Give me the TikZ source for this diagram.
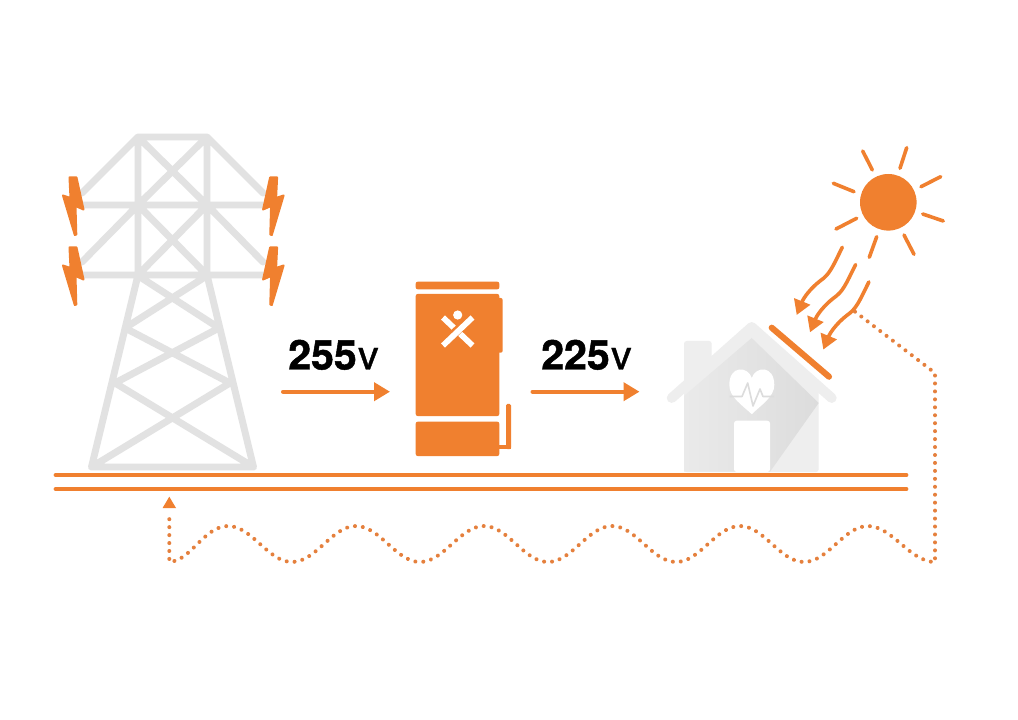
\documentclass[tikz,border=0pt]{standalone}
\usepackage{fontspec}
\setmainfont{TeX Gyre Heros}
\newfontfamily\voltbold[FakeBold=1.2]{TeX Gyre Heros Bold}
\newfontfamily\voltmed[FakeBold=1.0]{TeX Gyre Heros}
\usetikzlibrary{arrows.meta,shadings}
\definecolor{org}{HTML}{F0802F}
\definecolor{dotorg}{HTML}{E5803D}
\definecolor{tower}{HTML}{E2E2E2}
\definecolor{hlight}{HTML}{EEEEEE}
\definecolor{hleft}{HTML}{EAEAEA}
\definecolor{hdark}{HTML}{DCDCDC}
\tikzset{
  towerline/.style={draw=tower,line width=5.2pt,line cap=round,line join=round},
  bolt/.style={fill=org,draw=org,line width=1.5pt,line join=round},
  ground/.style={draw=org,line width=3.7pt,line cap=round},
  flow/.style={draw=org,line width=3pt,line cap=round,-{Triangle[length=12pt,width=13.5pt]}},
  ray/.style={draw=org,line width=2.7pt,line cap=round},
  wavy/.style={draw=org,line width=2.7pt,line cap=round,-{Triangle[length=11pt,width=12.5pt]}},
  dots/.style={draw=dotorg,line width=3pt,line cap=round,dash pattern=on 0.01pt off 5.95pt},
  volt/.style={inner sep=0pt,anchor=base west,text=black},
  orgbox/.style={fill=org,rounded corners=1.5pt},
}
\begin{document}
\begin{tikzpicture}[x=0.75pt,y=-0.75pt]
\useasboundingbox (0,0) rectangle (1018,720);
\fill[white] (0,0) rectangle (1018,720);
% tower
\path[towerline] (82,193) -- (138,137) -- (207,137) -- (263,193)
  (83,205) -- (263,205) (83,275) -- (263,275)
  (82,262) -- (138,205) (207,205) -- (263,262)
  (138,137) -- (138,275) (207,137) -- (207,275)
  (138,137) -- (207,205) (207,137) -- (138,205)
  (138,205) -- (207,275) (207,205) -- (138,275)
  (138,275) -- (91.5,467) -- (253.5,467) -- (207,275)
  (140,277) -- (219,328) (205,277) -- (125,328)
  (125,328) -- (230,383) (219,328) -- (115,383)
  (115,383) -- (253.5,467) (230,383) -- (91.5,467);
% bolts
\foreach \d in {0,70}{
  \path[bolt] (69.5,177.5+\d) -- (76.5,177.5+\d) -- (83.5,209.5+\d) -- (75.5,206+\d) -- (76.3,234.5+\d) -- (74.8,235+\d) -- (63,195.5+\d) -- (70.5,198+\d) -- cycle;
  \path[bolt] (277.1,177.5+\d) -- (270.1,177.5+\d) -- (263.1,209.5+\d) -- (271.1,206+\d) -- (270.3,234.5+\d) -- (271.8,235+\d) -- (283.6,195.5+\d) -- (276.1,198+\d) -- cycle;
}
% ground
\draw[ground] (56,475) coordinate (g1a) -- (906,475) coordinate (g1b);
\draw[ground] (56,489) coordinate (g2a) -- (906,489) coordinate (g2b);
% device
\path[orgbox] (415.7,281.7) rectangle (499.3,289.3);
\path[orgbox] (415.7,294) rectangle (499.3,416);
\path[orgbox] (490,298) rectangle (502.7,352.7);
\path[orgbox] (415.7,421.7) rectangle (499.3,456);
\path[fill=org,rounded corners=1pt] (506,404) rectangle (511,449);
\path[fill=org] (499,445) rectangle (511,449);
\fill[white] (457.7,315) circle[radius=4.6];
\draw[white,line width=4.3pt] (443,317.5) -- (472.5,345.5);
\draw[org,line width=6.6pt] (451,336.5) -- (465,323);
\draw[white,line width=4.3pt] (472.5,317.5) -- (443,345.5);
% arrows and labels
\coordinate (a1s) at (283,391.7); \coordinate (a1e) at (390,391.7);
\coordinate (a2s) at (532.5,391.7); \coordinate (a2e) at (639.5,391.7);
\draw[flow] (a1s) -- (a1e);
\draw[flow] (a2s) -- (a2e);
\node[volt] (v1) at (288,369.5) {\fontsize{30.8pt}{31pt}\selectfont\voltbold 255\kern1pt\voltmed v};
\node[volt] (v2) at (541,369.5) {\fontsize{30.8pt}{31pt}\selectfont\voltbold 225\kern1pt\voltmed v};
% house
\path[fill=hlight] (684,472) [rounded corners=2pt]-- (684,341) -- (711.7,341) -- (711.7,360) -- (751.7,326) -- (818.7,385) -- (818.7,472) -- cycle;
\shade[left color=hleft,right color=hdark,shading angle=90]
  (684,471.7) -- (684,396) -- (751.7,338) -- (818.7,403) -- (770,471.7) -- cycle;
\draw[hlight,line width=7.4pt,line cap=round,line join=round] (671.7,398) -- (751.7,327) -- (831.7,398);
\fill[white,rounded corners=2pt] (734,472) -- (734,420.7) -- (770,420.7) -- (770,472) -- cycle;
\fill[white] (751.8,414.2) .. controls (742,405) and (729.3,397) .. (729.3,385)
  .. controls (729.3,365) and (748,366) .. (751.8,378)
  .. controls (755.5,366) and (774.3,365) .. (774.3,385)
  .. controls (774.3,397) and (761,405) .. (751.8,414.2) -- cycle;
\draw[hdark,line width=1.2pt,line join=round] (729.5,396.5) -- (742,396.5) -- (747.7,383) -- (753,406) -- (760,389) -- (763,396.5) -- (774,396.5);
\draw[org,line width=4.6pt,line cap=round] (771.7,327.7) -- (829,376.7);
% sun
\fill[org] (888.3,202.3) circle[radius=28.3];
\draw[ray] (862.7,151) -- (872.3,170);
\draw[ray] (906.7,147.7) -- (900,168.3);
\draw[ray] (940.7,176.7) -- (921,186.7);
\draw[ray] (943.3,221) -- (922.7,214);
\draw[ray] (914,254.3) -- (904,235);
\draw[ray] (876.7,236.7) -- (869.3,257.3);
\draw[ray] (856.7,218.3) -- (836,229);
\draw[ray] (854,191.7) -- (833.3,183.3);
% wavy sun beams
\foreach \i in {0,1,2}{
  \draw[wavy,shift={(13.3*\i,17.3*\i)}] (842.3,247.3) .. controls (832,268) and (830,274) .. (820,281) .. controls (811,288) and (804,297) .. (796.7,315);
}
% dotted path
\coordinate (ds) at (855,311.7);
\coordinate (dc) at (935,373);
\coordinate (dw) at (935,562);
\coordinate (dl) at (169.3,561.7);
\coordinate (dt) at (169.3,514);
\coordinate (dtip) at (169.3,496.7);
\draw[dots] (ds) -- (dc) -- (dw)
  .. controls (910,562) and (892,526) .. (868,526)
  .. controls (844,526) and (828,562) .. (804,562)
  .. controls (780,562) and (764,526) .. (740,526)
  .. controls (716,526) and (700,562) .. (676,562)
  .. controls (652,562) and (636,526) .. (612,526)
  .. controls (588,526) and (572,562) .. (548,562)
  .. controls (524,562) and (508,526) .. (484,526)
  .. controls (460,526) and (444,562) .. (420,562)
  .. controls (396,562) and (380,526) .. (356,526)
  .. controls (332,526) and (316,562) .. (292,562)
  .. controls (268,562) and (252,526) .. (228,526)
  .. controls (204,526) and (190,562) .. (169.3,561.7) -- (dt);
\fill[org] (dtip) -- (176,508) -- (162.6,508) -- cycle;
\end{tikzpicture}
\end{document}
